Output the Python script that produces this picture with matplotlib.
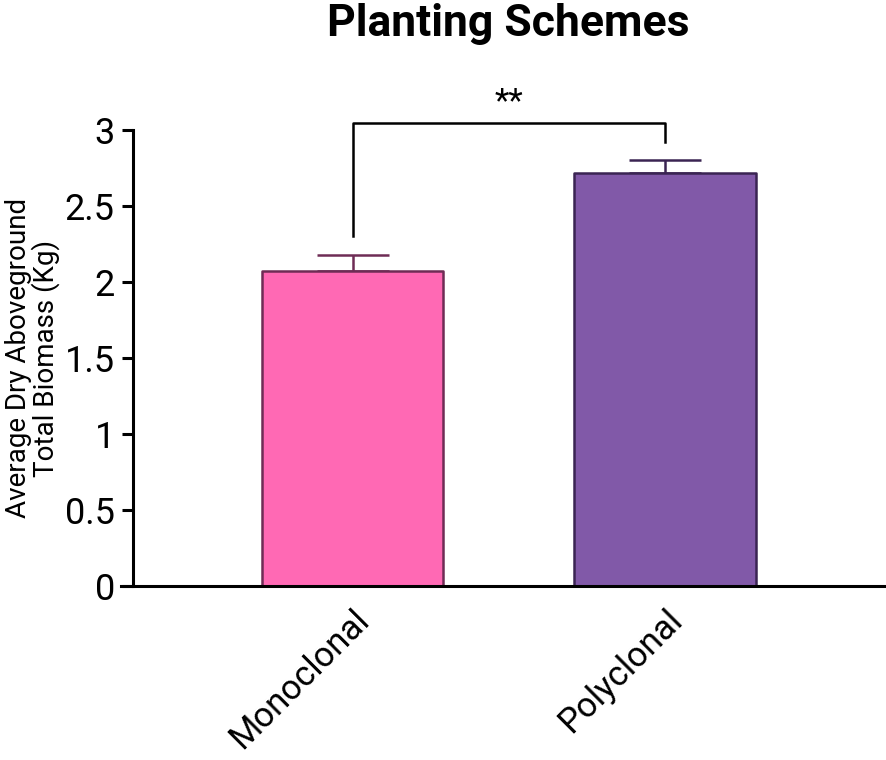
import matplotlib.pyplot as plt

# values
schemes = ["Monoclonal", "Polyclonal"]
biomass = [2.07, 2.72]
biomass_err = [0.11, 0.08]
y_ticks = [0, 0.5, 1, 1.5, 2, 2.5, 3]
y_tick_labels = ["0", "0.5", "1", "1.5", "2", "2.5", "3"]

# significance bracket: top level and where each leg stops
bracket_top = 3.046
bracket_legs = [2.30, 2.92]
bracket_label = "**"

fills = ["#FF69B4", "#8159A8"]
edges = ["#6E2C55", "#3A2452"]

plt.rcParams["font.family"] = ["Roboto", "DejaVu Sans"]

fig = plt.figure(figsize=(8.86, 7.6), dpi=100)
ax = fig.add_axes([121 / 886, 1 - 586 / 760, 1 - 121 / 886, 456 / 760])

x = list(range(len(schemes)))
for i in x:
    ax.bar(
        i,
        biomass[i],
        width=0.58,
        color=fills[i],
        edgecolor=edges[i],
        linewidth=1.8,
        joinstyle="round",
        zorder=2,
    )
    ax.errorbar(
        i,
        biomass[i],
        yerr=[[0], [biomass_err[i]]],
        fmt="none",
        ecolor=edges[i],
        elinewidth=1.8,
        capsize=26,
        capthick=1.8,
        zorder=1,
    )

# bracket for the comparison
bx = [x[0], x[0], x[1], x[1]]
by = [bracket_legs[0], bracket_top, bracket_top, bracket_legs[1]]
ax.plot(bx, by, color="black", linewidth=1.8, clip_on=False, zorder=3)
ax.text(
    (x[0] + x[1]) / 2,
    bracket_top + 0.03,
    bracket_label,
    ha="center",
    va="bottom",
    fontsize=24,
    clip_on=False,
)

ax.set_xlim(-0.741, 1.707)
ax.set_ylim(0, 3)

ax.spines["top"].set_visible(False)
ax.spines["right"].set_visible(False)
ax.spines["left"].set_position(("data", -0.703))
ax.spines["left"].set_linewidth(2.2)
ax.spines["bottom"].set_linewidth(2.2)

ax.set_yticks(y_ticks)
ax.set_yticklabels(y_tick_labels)
ax.tick_params(axis="y", direction="out", length=8, width=2.2, pad=5, labelsize=26)

ax.set_xticks(x)
ax.set_xticklabels(schemes, rotation=45, ha="right", rotation_mode="anchor")
ax.tick_params(axis="x", length=0, pad=12, labelsize=25)

ax.set_ylabel(
    "Average Dry Aboveground\nTotal Biomass (Kg)",
    fontsize=20,
    linespacing=0.95,
)
ax.yaxis.set_label_coords(-0.08, 0.5)

fig.text(
    508 / 886,
    1 - 24 / 760,
    "Planting Schemes",
    ha="center",
    va="center",
    fontsize=32,
    fontweight="bold",
)

fig.savefig("out.png", dpi=100)
